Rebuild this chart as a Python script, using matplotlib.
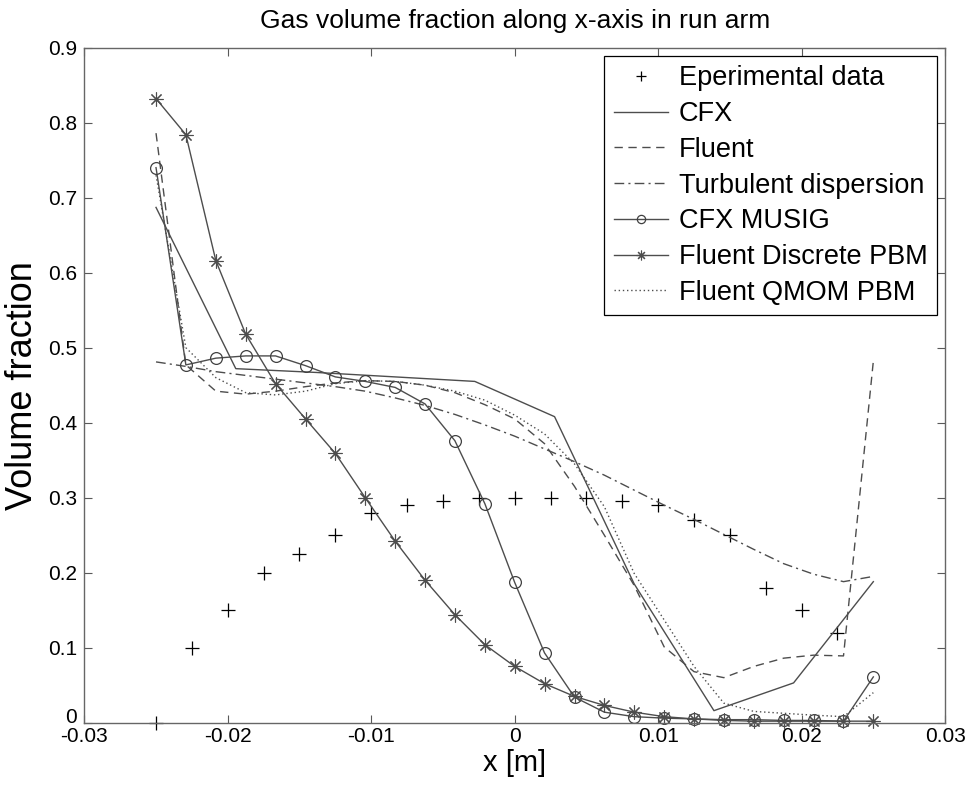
import matplotlib
matplotlib.use("Agg")
import matplotlib.pyplot as plt
from matplotlib.transforms import ScaledTranslation

plt.rcParams['font.family'] = ['Liberation Sans', 'DejaVu Sans']

# experimental points
x_exp = [-0.025, -0.0225, -0.02, -0.0175, -0.015, -0.0125, -0.01, -0.0075, -0.005,
         -0.0025, 0.0, 0.0025, 0.005, 0.0075, 0.01, 0.0125, 0.015, 0.0175, 0.02, 0.0225]
y_exp = [0.0, 0.10, 0.15, 0.20, 0.225, 0.25, 0.28, 0.29, 0.295,
         0.30, 0.30, 0.30, 0.30, 0.295, 0.29, 0.27, 0.25, 0.18, 0.15, 0.12]

# CFX on a coarse grid
x_cfx = [-0.025, -0.01944, -0.01389, -0.00833, -0.00278, 0.00278, 0.00833, 0.01389, 0.01944, 0.025]
y_cfx = [0.687, 0.472, 0.467, 0.461, 0.455, 0.408, 0.185, 0.016, 0.053, 0.188]

# the other simulations share a 25 point grid
x_grid = [-0.025, -0.02292, -0.02083, -0.01875, -0.01667, -0.01458, -0.0125, -0.01042,
          -0.00833, -0.00625, -0.00417, -0.00208, 0.0, 0.00208, 0.00417, 0.00625,
          0.00833, 0.01042, 0.0125, 0.01458, 0.01667, 0.01875, 0.02083, 0.02292, 0.025]
y_fluent = [0.786, 0.477, 0.442, 0.438, 0.442, 0.448, 0.453, 0.456, 0.455, 0.450, 0.440,
            0.424, 0.405, 0.372, 0.315, 0.250, 0.183, 0.101, 0.068, 0.060, 0.075, 0.086,
            0.090, 0.089, 0.482]
y_turb = [0.481, 0.475, 0.468, 0.463, 0.458, 0.453, 0.448, 0.442, 0.433, 0.423, 0.411,
          0.397, 0.382, 0.365, 0.348, 0.330, 0.310, 0.290, 0.271, 0.251, 0.231, 0.212,
          0.198, 0.188, 0.195]
y_musig = [0.740, 0.477, 0.486, 0.489, 0.489, 0.476, 0.461, 0.455, 0.447, 0.425, 0.376,
           0.292, 0.187, 0.093, 0.034, 0.014, 0.008, 0.006, 0.005, 0.004, 0.004, 0.003,
           0.003, 0.002, 0.061]
y_discrete = [0.832, 0.784, 0.616, 0.518, 0.452, 0.405, 0.359, 0.300, 0.242, 0.190, 0.144,
              0.104, 0.075, 0.052, 0.035, 0.023, 0.014, 0.008, 0.005, 0.003, 0.002, 0.002,
              0.002, 0.002, 0.002]
y_qmom = [0.73, 0.50, 0.46, 0.44, 0.437, 0.442, 0.452, 0.456, 0.455, 0.450, 0.442,
          0.430, 0.410, 0.385, 0.345, 0.288, 0.199, 0.137, 0.075, 0.026, 0.015, 0.0125,
          0.010, 0.008, 0.04]

xticks = [-0.03, -0.02, -0.01, 0, 0.01, 0.02, 0.03]
xtick_labels = ['-0.03', '-0.02', '-0.01', '0', '0.01', '0.02', '0.03']
yticks = [0, 0.1, 0.2, 0.3, 0.4, 0.5, 0.6, 0.7, 0.8, 0.9]
ytick_labels = ['0', '0.1', '0.2', '0.3', '0.4', '0.5', '0.6', '0.7', '0.8', '0.9']

fig = plt.figure(figsize=(9.7, 7.93), dpi=100)
ax = fig.add_axes([0.0869, 0.0887, 0.8874, 0.8512])

lc = '0.3'
lw = 1.0
ax.plot(x_exp, y_exp, linestyle='none', marker='+', color='k', markersize=10,
        markeredgewidth=0.9, clip_on=False, label='Eperimental data')
ax.plot(x_cfx, y_cfx, '-', color=lc, lw=lw, label='CFX')
ax.plot(x_grid, y_fluent, '--', color=lc, lw=lw, dashes=(6, 4), label='Fluent')
ax.plot(x_grid, y_turb, '-.', color=lc, lw=lw, dashes=(7, 3, 1.5, 3), label='Turbulent dispersion')
ax.plot(x_grid, y_musig, '-', color=lc, lw=lw, marker='o', markersize=8.5,
        markerfacecolor='none', markeredgecolor='0.25', markeredgewidth=0.9,
        clip_on=False, label='CFX MUSIG')
ax.plot(x_grid, y_discrete, '-', color=lc, lw=lw, marker=(8, 2, 0), markersize=10,
        markeredgecolor='0.3', markeredgewidth=0.8, clip_on=False, label='Fluent Discrete PBM')
ax.plot(x_grid, y_qmom, ':', color=lc, lw=lw, dashes=(1, 2), label='Fluent QMOM PBM')

ax.set_xlim(-0.03, 0.03)
ax.set_ylim(0, 0.9)
ax.set_xticks(xticks)
ax.set_xticklabels(xtick_labels)
ax.set_yticks(yticks)
ax.set_yticklabels(ytick_labels)
ax.tick_params(direction='in', top=True, right=True, length=6, width=0.8,
               color='0.35', labelsize=15)
ax.tick_params(axis='x', pad=3)
ax.tick_params(axis='y', pad=5)
# nudge the y "0" label up a little, as in the reference
ylab0 = ax.get_yticklabels()[0]
ylab0.set_transform(ylab0.get_transform() + ScaledTranslation(0, 5 / 72, fig.dpi_scale_trans))
for s in ax.spines.values():
    s.set_color('0.4')
    s.set_linewidth(1.0)

ax.set_title('Gas volume fraction along x-axis in run arm', fontsize=19, pad=14)
ax.set_xlabel('x [m]', fontsize=21, labelpad=2)
ax.set_ylabel('Volume fraction', fontsize=26, labelpad=6)

leg = ax.legend(loc='upper right', fontsize=19.5, fancybox=False, framealpha=1,
                edgecolor='k', handlelength=2.0, handletextpad=0.4,
                borderaxespad=0.3, labelspacing=0.36, markerscale=0.7,
                borderpad=0.35)
leg.get_frame().set_linewidth(0.9)

fig.savefig('out.png', dpi=100)
